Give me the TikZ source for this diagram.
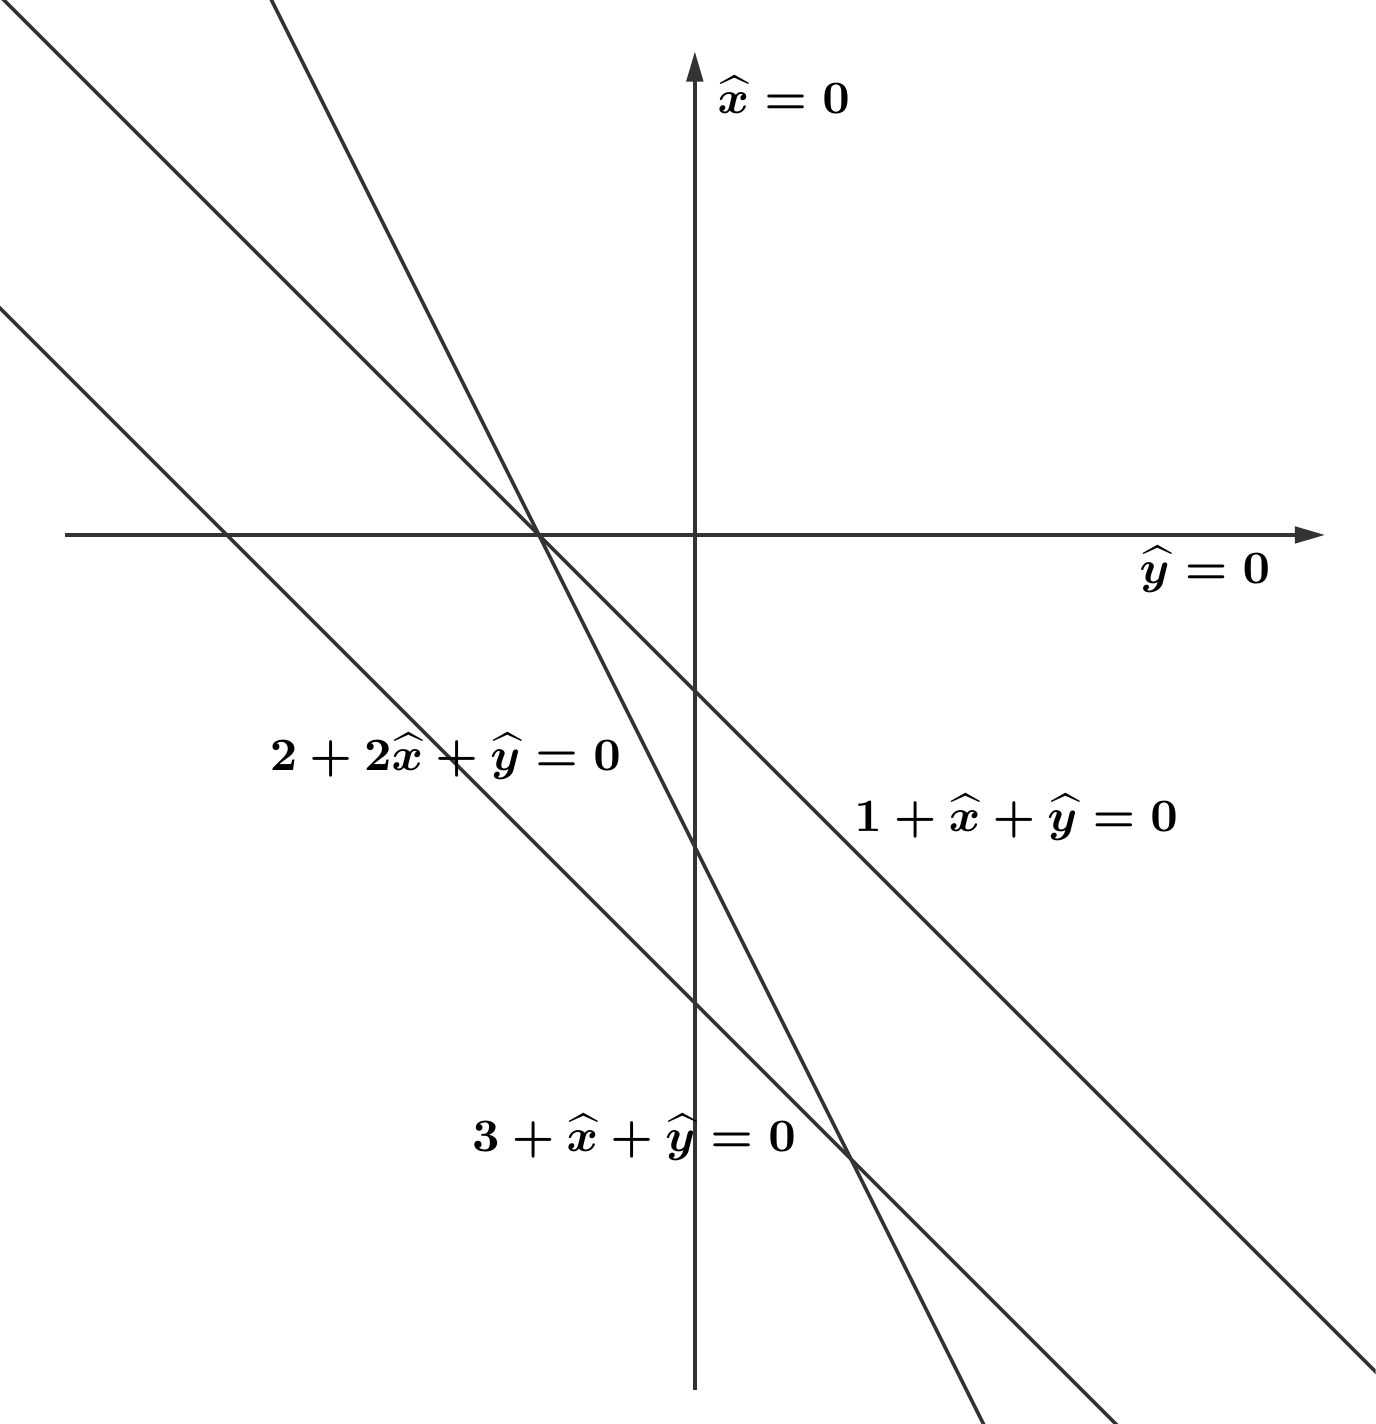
\documentclass[tikz,border=0pt]{standalone}
\usetikzlibrary{arrows.meta}

\begin{document}
\begin{tikzpicture}[line width=0.65pt,font=\small\boldmath]
		\tikzset{axis/.style={draw=black!80,-{Triangle[length=5.5pt,width=3pt]}}, locus/.style={draw=black!80}, eqlabel/.style={scale=0.94,transform shape}}
		\useasboundingbox (-4.455,-5.70) rectangle (4.365,3.43);
		\clip (-4.455,-5.70) rectangle (4.365,3.43);
		% axes
		\coordinate (xl) at (-4.04,0); \coordinate (xr) at (4.04,0);
		\coordinate (yb) at (0,-5.48); \coordinate (yt) at (0,3.10);
		\draw[axis] (xl) -- (xr);
		\draw[axis] (yb) -- (yt);
		% lines  a + b x + y = 0
		\foreach \a / \b / \n in {1/1/one,2/2/two,3/1/three} {
			\coordinate (\n-s) at (-6,{-\a+6*\b});
			\coordinate (\n-e) at (6,{-\a-6*\b});
			\draw[locus] (\n-s) -- (\n-e);}
		\node[eqlabel] (xlab) at (0.57,2.82) {$\widehat{x}=0$};
		\node[eqlabel] (ylab) at (3.27,-0.22) {$\widehat{y}=0$};
		\node[eqlabel] (twolab) at (-1.60,-1.42) {$2+2\widehat{x}+\widehat{y}=0$};
		\node[eqlabel] (onelab) at (2.06,-1.81) {$1+\widehat{x}+\widehat{y}=0$};
		\node[eqlabel] (threelab) at (-0.39,-3.86) {$3+\widehat{x}+\widehat{y}=0$};
	\end{tikzpicture}
\end{document}
